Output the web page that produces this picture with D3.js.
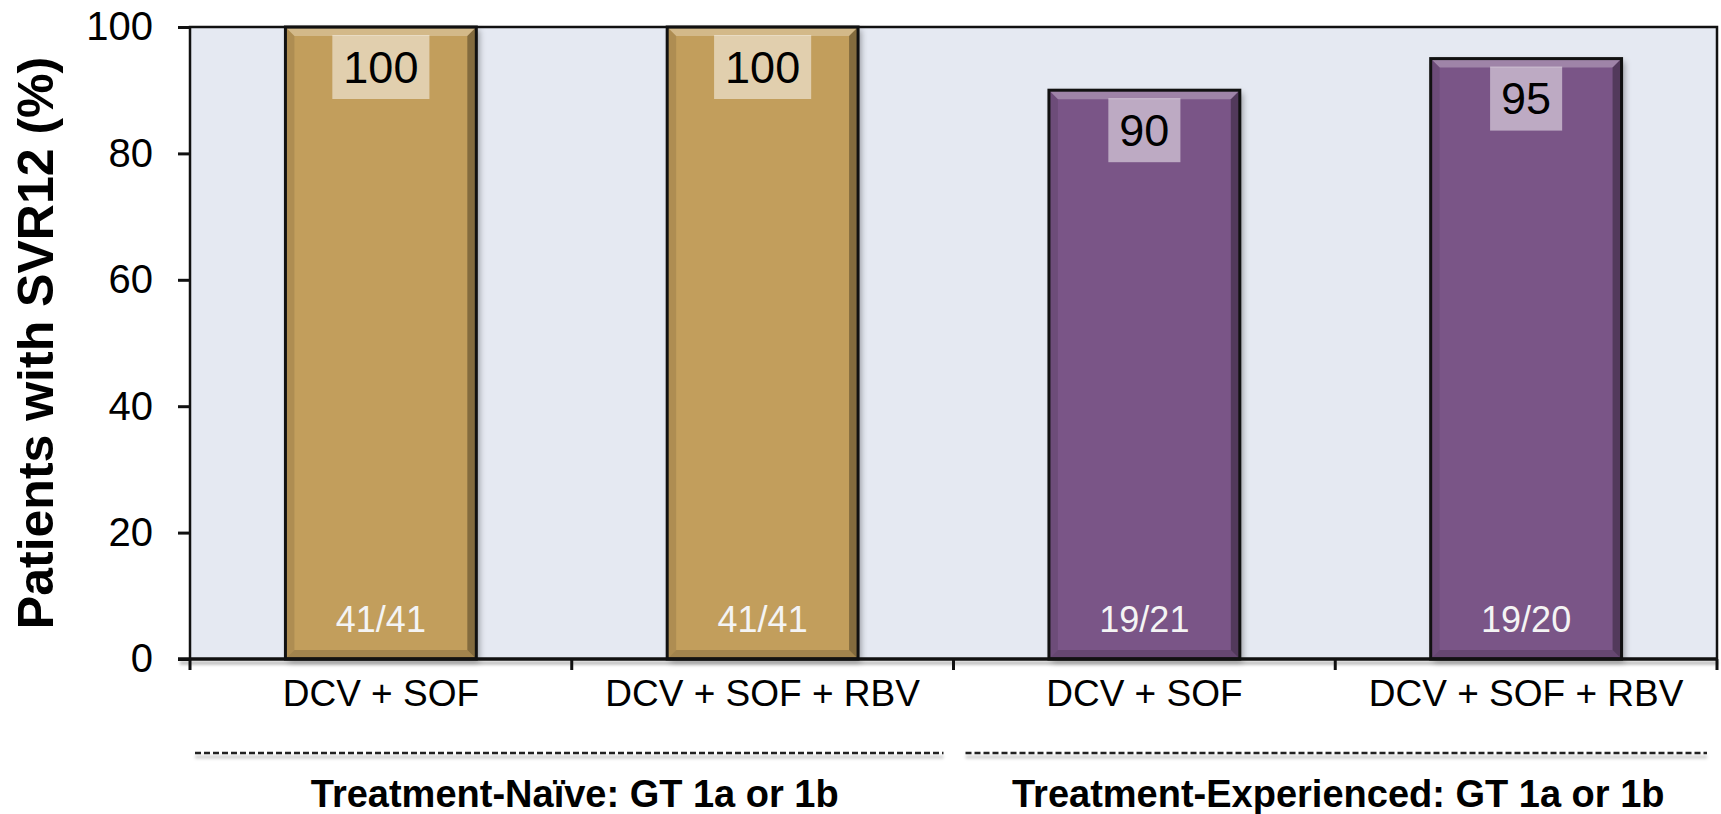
<!DOCTYPE html>
<html>
<head>
<meta charset="utf-8">
<script src="https://cdn.jsdelivr.net/npm/d3@7/dist/d3.min.js"></script>
<style>
  html, body { margin: 0; padding: 0; background: #ffffff; }
  svg { display: block; font-family: "Liberation Sans", Arial, sans-serif; }
</style>
</head>
<body>
<svg id="chart" width="1721" height="814"></svg>
<script>
// ---- data ----
const categories = ["DCV + SOF", "DCV + SOF + RBV", "DCV + SOF", "DCV + SOF + RBV"];
const values = [100, 100, 90, 95];
const counts = ["41/41", "41/41", "19/21", "19/20"];
const groupOf = [0, 0, 1, 1];
const groups = ["Treatment-Naïve: GT 1a or 1b", "Treatment-Experienced: GT 1a or 1b"];
const yTicks = [0, 20, 40, 60, 80, 100];
const yTitle = "Patients with SVR12 (%)";
const barColors = ["#c29e5c", "#7a5487"];

// ---- layout ----
const plotL = 190, plotR = 1717, plotT = 27, plotB = 659;

const svg = d3.select("#chart");
const defs = svg.append("defs");
const sh = defs.append("filter").attr("id", "shadow").attr("x", "-10%").attr("y", "-10%").attr("width", "130%").attr("height", "130%");
sh.append("feDropShadow").attr("dx", 3).attr("dy", 3).attr("stdDeviation", 3).attr("flood-color", "#000").attr("flood-opacity", 0.35);
const blur = defs.append("filter").attr("id", "blur").attr("filterUnits", "userSpaceOnUse")
  .attr("x", 0).attr("y", 0).attr("width", 1721).attr("height", 814);
blur.append("feGaussianBlur").attr("stdDeviation", 1.5);

const idx = d3.range(categories.length);
const x = d3.scaleBand().domain(idx).range([plotL, plotR]).paddingInner(0.5).paddingOuter(0.25);
const xEdge = d3.scaleLinear().domain([0, categories.length]).range([plotL, plotR]);
const y = d3.scaleLinear().domain([0, 100]).range([plotB, plotT]);

// plot background
svg.append("rect")
  .attr("x", plotL).attr("y", plotT).attr("width", plotR - plotL).attr("height", plotB - plotT)
  .attr("fill", "#e5e9f2");

// bars
const bev = 9;
const barG = svg.append("g");
idx.forEach(i => {
  const x0 = x(i), x1 = x(i) + x.bandwidth();
  const y0 = y(values[i]), y1 = y(0);
  const g = barG.append("g");
  g.append("rect").attr("x", x0).attr("y", y0).attr("width", x1 - x0).attr("height", y1 - y0)
    .attr("fill", barColors[groupOf[i]]).attr("filter", "url(#shadow)");
  const pts = (arr) => arr.map(p => p.join(",")).join(" ");
  g.append("polygon").attr("points", pts([[x0, y0], [x1, y0], [x1 - bev, y0 + bev], [x0 + bev, y0 + bev]]))
    .attr("fill", "#ffffff").attr("opacity", 0.28);
  g.append("polygon").attr("points", pts([[x0, y0], [x0 + bev, y0 + bev], [x0 + bev, y1 - bev], [x0, y1]]))
    .attr("fill", "#000").attr("opacity", 0.10);
  g.append("polygon").attr("points", pts([[x1, y0], [x1, y1], [x1 - bev, y1 - bev], [x1 - bev, y0 + bev]]))
    .attr("fill", "#000").attr("opacity", 0.32);
  g.append("polygon").attr("points", pts([[x0, y1], [x1, y1], [x1 - bev, y1 - bev], [x0 + bev, y1 - bev]]))
    .attr("fill", "#000").attr("opacity", 0.16);
  g.append("rect").attr("x", x0).attr("y", y0).attr("width", x1 - x0).attr("height", y1 - y0)
    .attr("fill", "none").attr("stroke", "#111").attr("stroke-width", 3);

  const cx = x0 + x.bandwidth() / 2;
  const t = g.append("text").attr("x", cx).attr("y", y0 + 8 + 32).attr("text-anchor", "middle")
    .attr("dominant-baseline", "central").attr("font-size", 45).attr("fill", "#000").text(values[i]);
  const bb = t.node().getBBox();
  g.insert("rect", "text").attr("x", cx - bb.width / 2 - 11).attr("y", y0 + 8)
    .attr("width", bb.width + 22).attr("height", 64).attr("fill", "#ffffff").attr("opacity", 0.5);

  g.append("text").attr("x", cx).attr("y", y(0) - 27).attr("text-anchor", "middle")
    .attr("font-size", 36).attr("fill", "#f4f4f4").text(counts[i]);
});

// plot border (left, top, right)
svg.append("path")
  .attr("d", `M${plotL},${plotB} L${plotL},${plotT} L${plotR},${plotT} L${plotR},${plotB}`)
  .attr("fill", "none").attr("stroke", "#111").attr("stroke-width", 2.5);

// y axis
const yAxis = svg.append("g").attr("transform", `translate(${plotL},0)`)
  .call(d3.axisLeft(y).tickValues(yTicks).tickSize(12).tickPadding(25));
yAxis.select(".domain").remove();
yAxis.selectAll(".tick line").attr("stroke", "#111").attr("stroke-width", 3);
yAxis.selectAll(".tick text").attr("font-size", 40).attr("fill", "#000")
  .attr("font-family", "'Liberation Sans', Arial, sans-serif");

// x axis line (with soft shadow) and boundary ticks
svg.append("line").attr("x1", plotL - 10).attr("x2", plotR + 1).attr("y1", plotB + 4).attr("y2", plotB + 4)
  .attr("stroke", "#000").attr("stroke-opacity", 0.3).attr("stroke-width", 3).attr("filter", "url(#blur)");
svg.append("line").attr("x1", plotL - 12).attr("x2", plotR + 1).attr("y1", plotB).attr("y2", plotB)
  .attr("stroke", "#111").attr("stroke-width", 3.5);
svg.append("g").selectAll("line").data(d3.range(categories.length + 1)).join("line")
  .attr("x1", d => xEdge(d)).attr("x2", d => xEdge(d))
  .attr("y1", plotB).attr("y2", plotB + 11)
  .attr("stroke", "#111").attr("stroke-width", 3);

// category labels
svg.append("g").selectAll("text").data(idx).join("text")
  .attr("x", d => x(d) + x.bandwidth() / 2).attr("y", plotB + 47)
  .attr("text-anchor", "middle").attr("font-size", 37).attr("fill", "#000")
  .text(d => categories[d]);

// group separators & labels
groups.forEach((gname, gi) => {
  const members = idx.filter(i => groupOf[i] === gi);
  const e0 = xEdge(d3.min(members)), e1 = xEdge(d3.max(members) + 1);
  const lx0 = e0 + 5 + (gi > 0 ? 7 : 0), lx1 = e1 - 10;
  svg.append("line").attr("x1", lx0).attr("x2", lx1)
    .attr("y1", 757).attr("y2", 757)
    .attr("stroke", "#000").attr("stroke-opacity", 0.2).attr("stroke-width", 3).attr("filter", "url(#blur)");
  svg.append("line").attr("x1", lx0).attr("x2", lx1)
    .attr("y1", 753).attr("y2", 753)
    .attr("stroke", "#222").attr("stroke-width", 2.5).attr("stroke-dasharray", "6,3");
  svg.append("text").attr("x", (e0 + e1) / 2 + 3).attr("y", 807)
    .attr("text-anchor", "middle").attr("font-size", 38).attr("font-weight", "bold")
    .attr("fill", "#000").text(gname);
});

// y title
svg.append("text")
  .attr("transform", `translate(53,${(plotT + plotB) / 2}) rotate(-90)`)
  .attr("text-anchor", "middle").attr("font-size", 50).attr("font-weight", "bold")
  .attr("fill", "#000").text(yTitle);
</script>
</body>
</html>
